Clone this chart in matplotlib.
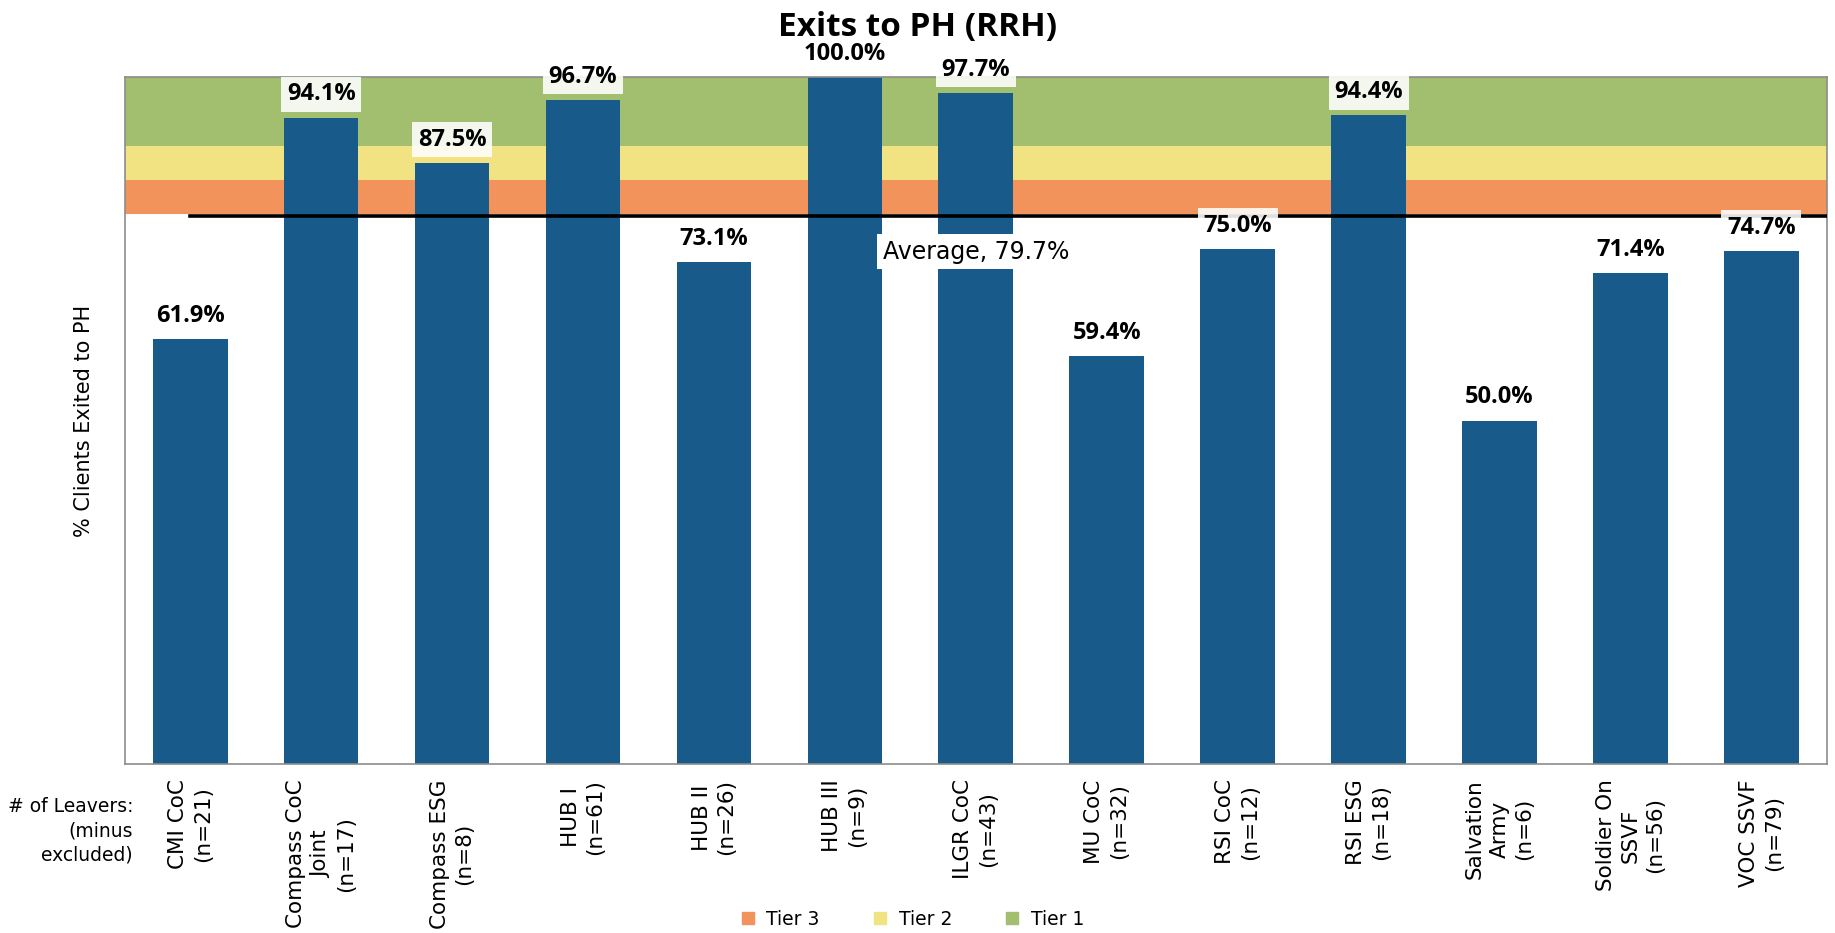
import matplotlib
matplotlib.use("Agg")
import matplotlib.pyplot as plt
from matplotlib.lines import Line2D

# --- Data ---
programs = ["CMI CoC\n(n=21)", "Compass CoC\nJoint\n(n=17)", "Compass ESG\n(n=8)",
            "HUB I\n(n=61)", "HUB II\n(n=26)", "HUB III\n(n=9)", "ILGR CoC\n(n=43)",
            "MU CoC\n(n=32)", "RSI CoC\n(n=12)", "RSI ESG\n(n=18)",
            "Salvation\nArmy\n(n=6)", "Soldier On\nSSVF\n(n=56)", "VOC SSVF\n(n=79)"]
pct_exited = [61.9, 94.1, 87.5, 96.7, 73.1, 100.0, 97.7, 59.4, 75.0, 94.4, 50.0, 71.4, 74.7]
average = 79.7
tier_names = ["Tier 3", "Tier 2", "Tier 1"]
tier_lo = [80, 85, 90]
tier_hi = [85, 90, 100]
tier_colors = ["#F1935A", "#F1E381", "#A2BF6F"]

BAR_COLOR = "#185A8A"
WIDE = ['DejaVu Sans']

plt.rcParams['font.family'] = ['Open Sans', 'DejaVu Sans']

fig = plt.figure(figsize=(18.35, 9.33), dpi=100)
ax = fig.add_axes([0.068, 0.181, 0.9275, 0.7365])

# tier bands
for lo, hi, c in zip(tier_lo, tier_hi, tier_colors):
    ax.axhspan(lo, hi, color=c, lw=0, zorder=0)

x = list(range(len(programs)))
ax.bar(x, pct_exited, width=0.57, color=BAR_COLOR, zorder=2)

# average line
ax.plot([0, len(programs) - 0.5], [average, average], color="black", lw=2.6, zorder=3)
ax.text(6, 74.6, f"Average, {average}%", ha="center", va="center", fontsize=17,
        family=WIDE, zorder=5, bbox=dict(facecolor="white", edgecolor="none", pad=4))

# value labels
for xi, v in zip(x, pct_exited):
    ax.annotate(f"{v:.1f}%", (xi, v), xytext=(0, 8), textcoords="offset points",
                ha="center", va="bottom", fontsize=17, fontweight="bold", zorder=6,
                bbox=dict(facecolor="white", alpha=0.88, edgecolor="none", pad=4))

ax.set_xlim(-0.5, len(programs) - 0.5)
ax.set_ylim(0, 100)
ax.set_yticks([])
ax.set_xticks(x)
ax.set_xticklabels(programs, rotation=90, fontsize=15.5, va="top", ha="center",
                   multialignment="center", family=WIDE, linespacing=1.3)
ax.tick_params(axis="x", length=0, pad=11)
for s in ax.spines.values():
    s.set_color("#8C8C8C")
    s.set_linewidth(1.2)

ax.set_ylabel("% Clients Exited to PH", fontsize=15, family=WIDE, labelpad=22)
fig.text(0.5, 0.97, "Exits to PH (RRH)", ha="center", va="center",
         fontsize=24, fontweight="bold")

fig.text(0.0725, 0.146, "# of Leavers:\n(minus\nexcluded)", ha="right", va="top",
         fontsize=13.5, family=WIDE, linespacing=1.35)

handles = [Line2D([], [], marker="s", ls="none", markersize=8.5, color=c) for c in tier_colors]
fig.legend(handles, tier_names, loc="center", bbox_to_anchor=(0.494, 0.015),
           ncol=3, frameon=False, prop={"family": WIDE, "size": 13.5},
           handletextpad=0.0, columnspacing=2.2)

fig.savefig("out.png", dpi=100)
